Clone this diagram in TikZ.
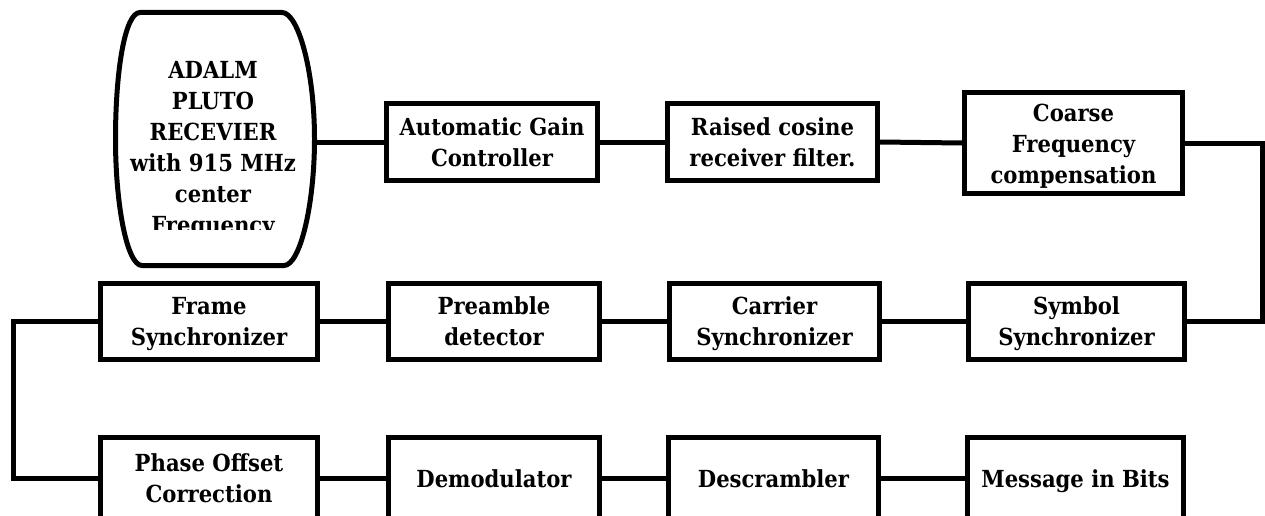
\documentclass[tikz,border=0pt]{standalone}
\usepackage{fontspec}
\setmainfont{DejaVu Serif Condensed}
\begin{document}
\begin{tikzpicture}[x=1pt,y=-1pt,
  txt/.style={inner sep=0pt, align=center, font=\bfseries\fontsize{23.5}{31}\selectfont},
  blk/.style={txt, draw, line width=5pt, text height=18pt, text depth=0pt},
  two/.style={text height=49pt},
  three/.style={text height=80pt},
  wire/.style={line width=5pt}]
\useasboundingbox (0,0) rectangle (1265,516);
\clip (0,0) rectangle (1265,516);
% receiver shape
\node[inner sep=0pt, outer sep=0pt, minimum width=204pt, minimum height=252pt] (pluto) at (215,142) {};
\draw[wire] (140,12.5) -- (282,12.5)
  .. controls (298,12.5) and (314.5,70) .. (314.5,139)
  .. controls (314.5,205) and (300,265.5) .. (284,265.5)
  -- (142,265.5)
  .. controls (127,265.5) and (115.5,205) .. (115.5,139)
  .. controls (115.5,70) and (125,12.5) .. (140,12.5) -- cycle;
\begin{scope}
\clip (113,0) rectangle (317,229);
\node[txt, anchor=north, text height=173pt, text depth=0pt] (plutotext) at (213,60) {ADALM\\PLUTO\\RECEVIER\\with 915 MHz\\center\\Frequency};
\end{scope}
% top row
\node[blk, two, minimum width=211pt, minimum height=77pt] (agc) at (492,142) {Automatic Gain\\Controller};
\node[blk, two, minimum width=210pt, minimum height=77pt] (rc) at (772.5,142) {Raised cosine\\receiver filter.};
\node[blk, three, minimum width=218pt, minimum height=101pt] (cfc) at (1073.5,143) {Coarse\\Frequency\\compensation};
% middle row
\node[blk, two, minimum width=217pt, minimum height=76pt] (fs) at (209,321) {Frame\\Synchronizer};
\node[blk, two, minimum width=211pt, minimum height=76pt] (pd) at (494,321) {Preamble\\detector};
\node[blk, two, minimum width=210pt, minimum height=76pt] (cs) at (774.5,321) {Carrier\\Synchronizer};
\node[blk, two, minimum width=216pt, minimum height=76pt] (ss) at (1076.5,321) {Symbol\\Synchronizer};
% bottom row
\node[blk, two, minimum width=217pt, minimum height=81pt] (poc) at (209,478) {Phase Offset\\Correction};
\node[blk, minimum width=211pt, minimum height=81pt] (dm) at (494,478) {Demodulator};
\node[blk, minimum width=210pt, minimum height=81pt] (ds) at (773.5,478) {Descrambler};
\node[blk, minimum width=216pt, minimum height=81pt] (mb) at (1075.5,478) {Message in Bits};
% connectors
\draw[wire] (pluto.east) -- (agc.west);
\draw[wire] (agc.east) -- (rc.west);
\draw[wire] (rc.east) -- (cfc.west);
\draw[wire] (cfc.east) -- ++(77,0) |- (ss.east);
\draw[wire] (ss.west) -- (cs.east);
\draw[wire] (cs.west) -- (pd.east);
\draw[wire] (pd.west) -- (fs.east);
\draw[wire] (fs.west) -- ++(-85,0) |- (poc.west);
\draw[wire] (poc.east) -- (dm.west);
\draw[wire] (dm.east) -- (ds.west);
\draw[wire] (ds.east) -- (mb.west);
\end{tikzpicture}
\end{document}
